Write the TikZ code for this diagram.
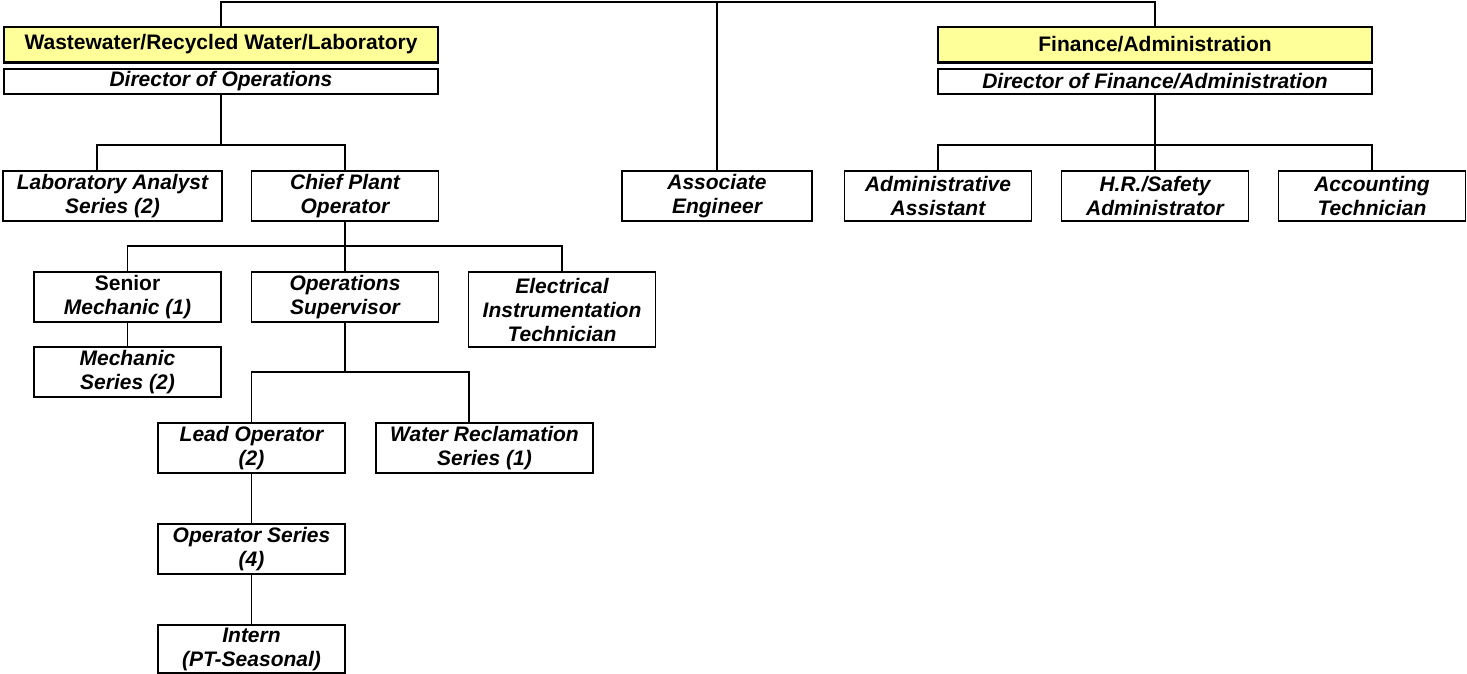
\documentclass[tikz,border=0pt]{standalone}
\usepackage{fontspec}
\setmainfont{Liberation Sans}
\definecolor{headyellow}{RGB}{255,255,153}
\tikzset{
 box/.style={draw,line width=0.6pt,inner sep=0pt,align=center,minimum width=93.5pt,minimum height=25pt,font=\fontsize{10.5}{12}\selectfont\bfseries\itshape},
 headbox/.style={box,fill=headyellow,minimum width=217pt,minimum height=17.5pt,font=\fontsize{10.5}{12}\selectfont\bfseries},
 dirbox/.style={box,minimum width=217pt,minimum height=12.5pt},
 link/.style={line width=0.6pt},
 shade/.style={line width=1.4pt}
}
\begin{document}
\begin{tikzpicture}[x=0.5pt,y=-0.5pt]
\useasboundingbox (0,0) rectangle (1467,674);
\node[headbox] (ww) at (221,44.5) {Wastewater/Recycled Water/Laboratory};
\node[dirbox] (dirops) at (221,81.5) {Director of Operations};
\node[headbox] (fin) at (1155,44.5) {Finance/Administration};
\node[dirbox] (dirfin) at (1155,81.5) {Director of Finance/Administration};
\node[box,minimum width=109.5pt] (lab) at (112.5,196) {Laboratory Analyst\\Series (2)};
\node[box] (chief) at (345,196) {Chief Plant\\Operator};
\node[box,minimum width=95pt] (assoc) at (717,196) {Associate\\Engineer};
\node[box] (admin) at (938,196) {Administrative\\Assistant};
\node[box] (hr) at (1155,196) {H.R./Safety\\Administrator};
\node[box] (acct) at (1372,196) {Accounting\\Technician};
\node[box] (senior) at (127.5,297) {{\upshape Senior}\\Mechanic (1)};
\node[box] (opsup) at (345,297) {Operations\\Supervisor};
\node[box,minimum height=37.5pt] (elec) at (562,309.5) {Electrical\\Instrumentation\\Technician};
\node[box] (mech) at (127.5,372) {Mechanic\\Series (2)};
\node[box] (lead) at (251.5,448) {Lead Operator\\(2)};
\node[box,minimum width=108.5pt] (water) at (484.5,448) {Water Reclamation\\Series (1)};
\node[box] (opser) at (251.5,549) {Operator Series\\(4)};
\node[box,minimum height=24pt] (intern) at (251.5,649) {Intern\\(PT-Seasonal)};
\draw[shade] (ww.south west) -- (ww.south east);
\draw[shade] (fin.south west) -- (fin.south east);
\coordinate (top) at (717,2);
\coordinate (j1) at (221,145);
\coordinate (j2) at (1155,145);
\coordinate (j3) at (345,246);
\coordinate (j4) at (345,372);
\draw[link] (ww.north) |- (top) -| (fin.north);
\draw[link] (top) -- (assoc.north);
\draw[link] (dirops.south) -- (j1);
\draw[link] ([xshift=-7.75pt]lab.north) |- (j1) -| (chief.north);
\draw[link] (dirfin.south) -- (hr.north);
\draw[link] (admin.north) |- (j2) -| (acct.north);
\draw[link] (chief.south) -- (opsup.north);
\draw[link] (senior.north) |- (j3) -| (elec.north);
\draw[link] (senior.south) -- (mech.north);
\draw[link] (opsup.south) -- (j4);
\draw[link] (lead.north) |- (j4) -| ([xshift=-7.75pt]water.north);
\draw[link] (lead.south) -- (opser.north);
\draw[link] (opser.south) -- (intern.north);
\end{tikzpicture}
\end{document}
